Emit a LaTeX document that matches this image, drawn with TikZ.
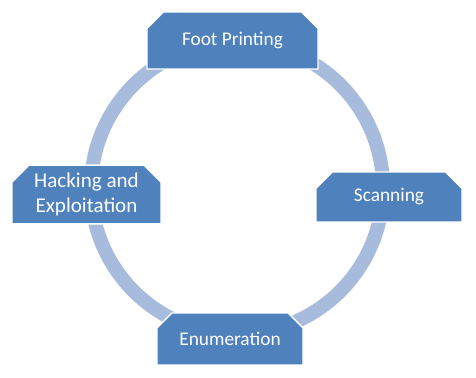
\documentclass[tikz,border=0pt]{standalone}
\usepackage{fontspec}
\setmainfont{Carlito}
\usepackage{xcolor}
\usetikzlibrary{shapes.misc,positioning}

\definecolor{stageblue}{HTML}{4F81BD}
\definecolor{ringblue}{HTML}{A7BBDD}

\begin{document}
\begin{tikzpicture}[x=0.02cm, y=-0.02cm,
  stage/.style={chamfered rectangle, chamfered rectangle corners={north west, north east},
    chamfered rectangle xsep=0.18cm, chamfered rectangle ysep=0.16cm,
    draw=white, line width=0.8pt, fill=stageblue, text=white, align=center,
    inner sep=0pt, minimum height=1.04cm, font=\fontsize{11}{14}\selectfont},
  ring/.style={draw=ringblue, line width=0.28cm}
]
\useasboundingbox (0,0) rectangle (476,378);

% Cycle ring
\coordinate (hub) at (237,188);
\draw[ring] (hub) circle[radius=146];

% Top stage
\node[stage, minimum width=3.42cm, minimum height=1.14cm] (foot) at (232.5,40.5) {Foot Printing};

% Right stage
\node[stage, minimum width=2.92cm, minimum height=1.0cm] (scan) at (389,197) {Scanning};

% Bottom stage
\node[stage, minimum width=2.92cm] (enum) at (230,339) {Enumeration};

% Left stage
\node[stage, minimum width=2.98cm, minimum height=1.06cm, font=\fontsize{12}{14}\selectfont] (hack) at (86.5,194.5) {Hacking and\\Exploitation};

\end{tikzpicture}
\end{document}
